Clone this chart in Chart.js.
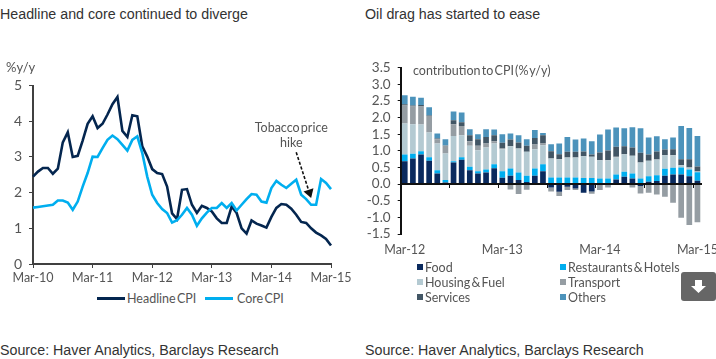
<!DOCTYPE html>
<html>
<head>
<meta charset="utf-8">
<script src="https://cdn.jsdelivr.net/npm/chart.js@4"></script>
<style>
  html, body { margin: 0; padding: 0; background: #fff; overflow: hidden; }
  body { width: 716px; height: 359px; position: relative; }
  .box { position: absolute; }
  .head { position: absolute; font: 14.25px "Liberation Sans", Arial, sans-serif; color: #333; white-space: nowrap; }
  .src { position: absolute; font: 14.25px "Liberation Sans", Arial, sans-serif; color: #333; white-space: nowrap; }
  .note { position: absolute; font: 12.5px Lato, sans-serif; word-spacing: -2px; color: #555; white-space: nowrap; }
  .leg { position: absolute; font: 12.5px Lato, sans-serif; word-spacing: -2px; color: #555; white-space: nowrap; line-height: 15px; }
  .swatch { position: absolute; }
  #dl { position: absolute; left: 681px; top: 272px; width: 35px; height: 29px; background: #666; border-radius: 3px; }
</style>
</head>
<body>
<div class="head" style="left:0;top:6px">Headline and core continued to diverge</div>
<div class="head" style="left:365px;top:6px">Oil drag has started to ease</div>

<div class="box" style="left:0;top:0;width:382px;height:290px"><canvas id="cpiChart"></canvas></div>
<div class="box" style="left:360px;top:0;width:356px;height:270px"><canvas id="contribChart"></canvas></div>

<div class="note" style="left:6px;top:59px;font-size:13px">%y/y</div>
<div class="note" style="left:413px;top:63px">contribution to CPI (% y/y)</div>

<div id="legends"></div>

<div id="dl"><svg width="35" height="29" viewBox="0 0 35 29"><polygon points="14,8 21,8 21,14 25,14 17.5,21 10,14 14,14" fill="#fff"/></svg></div>

<div class="src" style="left:0;top:342px">Source: Haver Analytics, Barclays Research</div>
<div class="src" style="left:365px;top:342px">Source: Haver Analytics, Barclays Research</div>

<script>
var months = [
  'Mar-10','Apr-10','May-10','Jun-10','Jul-10','Aug-10','Sep-10','Oct-10','Nov-10','Dec-10','Jan-11','Feb-11',
  'Mar-11','Apr-11','May-11','Jun-11','Jul-11','Aug-11','Sep-11','Oct-11','Nov-11','Dec-11','Jan-12','Feb-12',
  'Mar-12','Apr-12','May-12','Jun-12','Jul-12','Aug-12','Sep-12','Oct-12','Nov-12','Dec-12','Jan-13','Feb-13',
  'Mar-13','Apr-13','May-13','Jun-13','Jul-13','Aug-13','Sep-13','Oct-13','Nov-13','Dec-13','Jan-14','Feb-14',
  'Mar-14','Apr-14','May-14','Jun-14','Jul-14','Aug-14','Sep-14','Oct-14','Nov-14','Dec-14','Jan-15','Feb-15',
  'Mar-15'
];
var cpiTicks = ['Mar-10', 'Mar-11', 'Mar-12', 'Mar-13', 'Mar-14', 'Mar-15'];
var contribTicks = ['Mar-12', 'Mar-13', 'Mar-14', 'Mar-15'];

var headlineCpi = [
  2.45, 2.59, 2.69, 2.69, 2.53, 2.67, 3.41, 3.69, 3.00, 3.03, 3.46, 3.93,
  4.14, 3.81, 3.93, 4.19, 4.48, 4.68, 3.73, 3.56, 4.17, 4.14, 3.30, 3.01,
  2.66, 2.55, 2.52, 2.17, 1.42, 1.26, 2.08, 2.10, 1.66, 1.43, 1.63, 1.57,
  1.47, 1.28, 1.15, 1.15, 1.61, 1.43, 1.00, 0.85, 1.22, 1.13, 1.08, 1.02,
  1.32, 1.57, 1.68, 1.66, 1.55, 1.38, 1.18, 1.15, 1.00, 0.88, 0.80, 0.70,
  0.52
];
var coreCpi = [
  1.58, 1.60, 1.62, 1.64, 1.66, 1.78, 1.78, 1.72, 1.52, 1.75, 2.17, 2.55,
  3.01, 3.00, 3.25, 3.48, 3.60, 3.50, 3.34, 3.18, 3.48, 3.58, 3.11, 2.45,
  1.94, 1.71, 1.54, 1.43, 1.16, 1.23, 1.38, 1.57, 1.38, 1.07, 1.28, 1.44,
  1.57, 1.57, 1.71, 1.57, 1.71, 1.50, 1.66, 1.82, 1.96, 1.94, 1.75, 1.72,
  2.13, 2.33, 2.22, 2.13, 2.25, 2.36, 1.94, 1.82, 1.66, 1.66, 2.38, 2.27,
  2.10
];

var food = [
  .69, .77, .89, .70, .32, .05, .65, .73, .42, .32, .35, .48,
  .19, .25, .12, .06, .25, .39, -.10, -.23, -.08, -.13, -.26, -.22,
  -.02, 0, .14, .22, .17, -.06, .07, .09, .25, .29, .29, .24, .10
];
var restaurants = [
  .20, .14, .10, .11, .10, .07, .04, .08, .10, .07, .09, .12,
  .20, .22, .23, .19, .22, .21, .20, .20, .20, .20, .18, .18,
  .17, .17, .15, .15, .15, .17, .17, .18, .21, .20, .21, .20, .26
];
var housing = [
  .93, .89, .80, .74, .80, .80, .76, .66, .63, .63, .66, .62,
  .66, .67, .72, .72, .58, .57, .57, .55, .60, .60, .66, .64,
  .55, .55, .51, .53, .53, .48, .46, .47, .41, .38, .07, .06, .02
];
var transport = [
  .54, .53, .54, .50, .13, .23, .35, .28, .14, .13, .12, .07,
  .02, -.16, -.30, -.17, .14, .05, -.12, -.13, -.10, -.05, 0, -.07,
  -.16, -.10, .02, 0, -.10, -.22, -.26, -.31, -.38, -.56, -1.01, -1.23, -1.15
];
var services = [
  .04, .03, .05, .01, .02, .01, .12, .11, .18, .20, .20, .18,
  .17, .20, .18, .18, .20, .25, .22, .15, .17, .17, .14, .07,
  .23, .29, .30, .24, .25, .29, .19, .24, .17, .18, .18, .25, .15
];
var others = [
  .27, .27, .22, .25, .15, .19, .26, .29, .18, .15, .23, .17,
  .26, .18, .22, .20, .24, .07, .21, .32, .45, .37, .39, .40,
  .54, .63, .58, .54, .61, .74, .51, .46, .31, .35, 1.00, .94, .92
];

var navy = '#04264f', cyan = '#00aeef', inkAxis = '#404040', inkText = '#555';
var tickFont = { family: 'Lato', size: 12.5 };

// dashed arrow and its caption sit in data coordinates on the left chart
var tobaccoLines = ['Tobacco price', 'hike'];
var tobaccoText = { month: 'Jul-14', values: [3.82, 3.40] };
var tobaccoArrow = { from: ['Aug-14', 3.13], to: ['Nov-14', 1.85] };

var tobaccoNote = {
  id: 'tobaccoNote',
  afterDatasetsDraw: function (chart) {
    var x = chart.scales.x, y = chart.scales.y, ctx = chart.ctx;
    ctx.save();
    ctx.font = '12.5px Lato';
    ctx.wordSpacing = '-2px';
    ctx.fillStyle = inkText;
    ctx.textAlign = 'center';
    ctx.textBaseline = 'middle';
    tobaccoLines.forEach(function (line, i) {
      ctx.fillText(line, x.getPixelForValue(months.indexOf(tobaccoText.month)), y.getPixelForValue(tobaccoText.values[i]));
    });
    var x0 = x.getPixelForValue(months.indexOf(tobaccoArrow.from[0])), y0 = y.getPixelForValue(tobaccoArrow.from[1]);
    var x1 = x.getPixelForValue(months.indexOf(tobaccoArrow.to[0])), y1 = y.getPixelForValue(tobaccoArrow.to[1]);
    var a = Math.atan2(y1 - y0, x1 - x0);
    ctx.strokeStyle = '#111';
    ctx.lineWidth = 1.6;
    ctx.setLineDash([3, 2]);
    ctx.beginPath();
    ctx.moveTo(x0, y0);
    ctx.lineTo(x1 - 6 * Math.cos(a), y1 - 6 * Math.sin(a));
    ctx.stroke();
    ctx.setLineDash([]);
    ctx.fillStyle = '#111';
    ctx.beginPath();
    ctx.moveTo(x1, y1);
    ctx.lineTo(x1 - 10 * Math.cos(a - 0.55), y1 - 10 * Math.sin(a - 0.55));
    ctx.lineTo(x1 - 10 * Math.cos(a + 0.55), y1 - 10 * Math.sin(a + 0.55));
    ctx.closePath();
    ctx.fill();
    ctx.restore();
  }
};

var cpiChart = new Chart(document.getElementById('cpiChart'), {
  type: 'line',
  data: {
    labels: months,
    datasets: [
      { label: 'Headline CPI', data: headlineCpi, borderColor: navy, backgroundColor: navy, borderWidth: 2.6, pointRadius: 0, tension: 0, order: 2 },
      { label: 'Core CPI', data: coreCpi, borderColor: cyan, backgroundColor: cyan, borderWidth: 2.6, pointRadius: 0, tension: 0, order: 1 }
    ]
  },
  options: {
    animation: false,
    responsive: true,
    maintainAspectRatio: false,
    layout: { padding: { top: 85.6, right: 51, bottom: 0, left: 0 } },
    plugins: { legend: { display: false }, tooltip: { enabled: false } },
    scales: {
      x: {
        afterFit: function (s) { s.height = 26; },
        border: { color: inkAxis, width: 2 },
        grid: {
          drawOnChartArea: false,
          tickLength: 4,
          tickColor: function (c) { return cpiTicks.indexOf(months[c.index]) >= 0 ? inkAxis : 'transparent'; }
        },
        ticks: {
          autoSkip: false,
          maxRotation: 0,
          padding: 2,
          color: inkText,
          font: tickFont,
          callback: function (v) {
            var l = this.getLabelForValue(v);
            return cpiTicks.indexOf(l) >= 0 ? l : '';
          }
        }
      },
      y: {
        min: 0,
        max: 5,
        afterFit: function (s) { s.width = 33; },
        border: { color: inkAxis, width: 2 },
        grid: { drawOnChartArea: false, tickLength: 4, tickColor: inkAxis },
        ticks: { stepSize: 1, padding: 7, color: inkText, font: { family: 'Lato', size: 14 } }
      }
    }
  },
  plugins: [tobaccoNote]
});

var contribMonths = months.slice(24);
var contribSeries = [
  { label: 'Food', data: food, color: '#0a2a5e' },
  { label: 'Restaurants & Hotels', data: restaurants, color: '#00aeef' },
  { label: 'Housing & Fuel', data: housing, color: '#b4cad2' },
  { label: 'Transport', data: transport, color: '#959da3' },
  { label: 'Services', data: services, color: '#425665' },
  { label: 'Others', data: others, color: '#4c93bb' }
];

var contribChart = new Chart(document.getElementById('contribChart'), {
  type: 'bar',
  data: {
    labels: contribMonths,
    datasets: contribSeries.map(function (s) {
      return { label: s.label, data: s.data, backgroundColor: s.color, stack: 'cpi', barPercentage: 0.7, categoryPercentage: 1 };
    })
  },
  options: {
    animation: false,
    responsive: true,
    maintainAspectRatio: false,
    layout: { padding: { top: 67.7, right: 14.5, bottom: 36, left: 0 } },
    plugins: { legend: { display: false }, tooltip: { enabled: false } },
    scales: {
      x: {
        stacked: true,
        position: { y: 0 },
        // big tick padding pushes the labels under the plot, it must not squeeze the bars sideways
        afterFit: function (s) { s.paddingLeft = 0; s.paddingRight = 0; },
        border: { color: '#111', width: 2, z: 1 },
        grid: {
          drawOnChartArea: false,
          z: 1,
          tickLength: 3,
          tickColor: function (c) { return c.index > 0 && c.index % 6 === 0 ? '#111' : 'transparent'; }
        },
        ticks: {
          autoSkip: false,
          maxRotation: 0,
          padding: 55,
          color: inkText,
          font: tickFont,
          callback: function (v) {
            var l = this.getLabelForValue(v);
            return contribTicks.indexOf(l) >= 0 ? l : '';
          }
        }
      },
      y: {
        stacked: true,
        min: -1.5,
        max: 3.5,
        afterFit: function (s) { s.width = 40.7; },
        border: { color: '#111', width: 2 },
        grid: { drawOnChartArea: false, tickLength: 3, tickColor: '#111' },
        ticks: {
          stepSize: 0.5,
          autoSkip: false,
          padding: 7,
          color: inkText,
          font: { family: 'Lato', size: 13.5 },
          callback: function (v) { return v.toFixed(1); }
        }
      }
    }
  }
});

// legends are laid out by hand, the native one cannot keep these fixed columns
var lineLegend = [
  { dataset: cpiChart.data.datasets[0], sampleX: 97, textX: 127 },
  { dataset: cpiChart.data.datasets[1], sampleX: 205, textX: 237 }
];
var squareSlots = [[417, 267], [560, 267], [417, 282], [560, 282], [417, 297], [560, 297]];
var legends = document.getElementById('legends');

function addText(text, x, y) {
  var el = document.createElement('div');
  el.className = 'leg';
  el.style.left = x + 'px';
  el.style.top = (y - 7.5) + 'px';
  el.textContent = text;
  legends.appendChild(el);
}
function addSwatch(color, x, y, w, h) {
  var el = document.createElement('div');
  el.className = 'swatch';
  el.style.cssText = 'left:' + x + 'px;top:' + y + 'px;width:' + w + 'px;height:' + h + 'px;background:' + color;
  legends.appendChild(el);
}
lineLegend.forEach(function (item) {
  addSwatch(item.dataset.borderColor, item.sampleX, 297, 28, 2.5);
  addText(item.dataset.label, item.textX, 298);
});
contribChart.data.datasets.forEach(function (ds, i) {
  var slot = squareSlots[i];
  addSwatch(ds.backgroundColor, slot[0], slot[1] - 3, 6, 6);
  addText(ds.label, slot[0] + 8, slot[1]);
});
</script>
</body>
</html>
